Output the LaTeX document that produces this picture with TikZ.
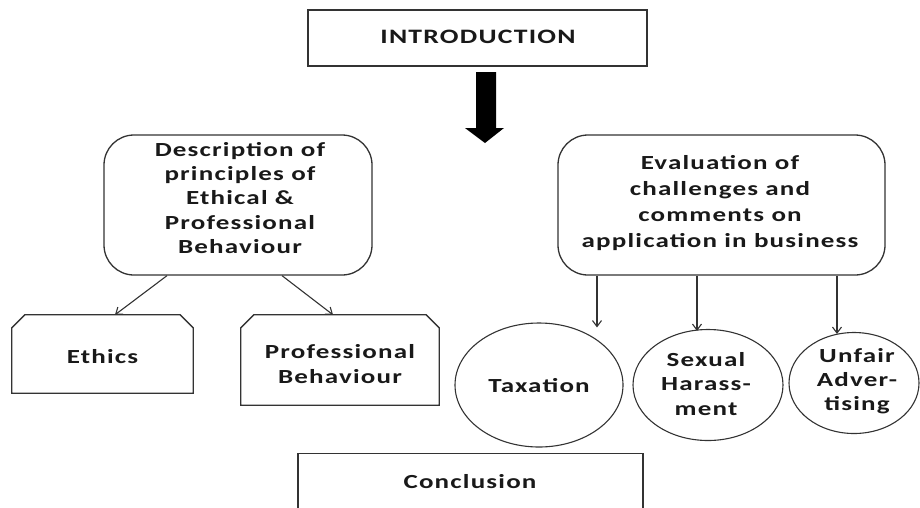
\documentclass[tikz,border=0pt]{standalone}
\usepackage{fontspec}
\setmainfont{Carlito}[FakeStretch=1.35,LetterSpace=6]
\usetikzlibrary{shapes.geometric,arrows.meta,calc}
\begin{document}
\begin{tikzpicture}[x=1pt,y=-1pt,
  txt/.style={font=\bfseries\fontsize{20}{24.3}\selectfont,text=black!90,align=center,inner sep=0pt},
  plainbox/.style={draw=black!80,line width=1.3pt,inner sep=0pt},
  roundbox/.style={plainbox,rounded corners=30pt},
  oval/.style={draw=black!80,line width=1.1pt,ellipse,inner sep=0pt},
  arr/.style={draw=black!80,line width=1.1pt,-{Straight Barb[length=6pt,width=9pt]}}]
\useasboundingbox (0,0) rectangle (920,507);
% introduction
\node[plainbox,minimum width=339pt,minimum height=56pt] (intro) at (477.5,38) {};
\node[txt,font=\bfseries\fontsize{20.5}{25}\selectfont] (introt) at (478,37) {INTRODUCTION};
% big arrow
\coordinate (bigtop) at (486,72);
\fill[black] ($(bigtop)+(-10,0)$) -- ($(bigtop)+(10,0)$) -- ($(bigtop)+(10,56)$) -- ($(bigtop)+(18,56)$)
  -- ($(bigtop)+(-1,71)$) -- ($(bigtop)+(-21,56)$) -- ($(bigtop)+(-10,56)$) -- cycle;
% left rounded box
\node[roundbox,minimum width=268pt,minimum height=140pt] (desc) at (238,205) {};
\node[txt] (desct) at (240,198) {Description of\\principles of\\Ethical \&\\Professional\\Behaviour};
% right rounded box
\node[roundbox,minimum width=327pt,minimum height=140pt] (eval) at (721.5,205) {};
\node[txt,font=\bfseries\fontsize{20}{26}\selectfont] (evalt) at (720,203) {Evaluation of\\challenges and\\comments on\\application in business};
% chamfered boxes
\node[minimum width=181pt,minimum height=78pt,inner sep=0pt] (eth) at (102.5,354) {};
\draw[draw=black!80,line width=1.3pt] ([yshift=-13pt]eth.north west) -- ([xshift=13pt]eth.north west)
  -- ([xshift=-13pt]eth.north east) -- ([yshift=-13pt]eth.north east) -- (eth.south east) -- (eth.south west) -- cycle;
\node[txt] (etht) at (102.5,357) {Ethics};
\node[minimum width=198pt,minimum height=90pt,inner sep=0pt] (prof) at (340,360) {};
\draw[draw=black!80,line width=1.3pt] ([yshift=-13pt]prof.north west) -- ([xshift=13pt]prof.north west)
  -- ([xshift=-13pt]prof.north east) -- ([yshift=-13pt]prof.north east) -- (prof.south east) -- (prof.south west) -- cycle;
\node[txt] (proft) at (340,364) {Professional\\Behaviour};
% arrows from left box
\draw[arr] ([xshift=-71pt]desc.south) -- ([xshift=12.5pt]eth.north);
\draw[arr] ([xshift=44pt]desc.south) -- ([xshift=-7pt]prof.north);
% ellipses
\node[oval,minimum width=168pt,minimum height=124pt] (tax) at (539,385) {};
\node[txt] (taxt) at (539,386) {Taxation};
\node[oval,minimum width=150pt,minimum height=111pt] (sex) at (708,385) {};
\node[txt] (sext) at (706,384) {Sexual\\Harass-\\ment};
\node[oval,minimum width=130pt,minimum height=101pt] (unf) at (854,383) {};
\node[txt] (unft) at (857,381) {Unfair\\Adver-\\tising};
% arrows from right box
\draw[arr] ([xshift=-124.5pt]eval.south) -- ([xshift=58pt,yshift=-5pt]tax.north);
\draw[arr] ([xshift=-24.5pt]eval.south) -- ([xshift=-11pt,yshift=-2pt]sex.north);
\draw[arr] ([xshift=115.5pt]eval.south) -- ([xshift=-17pt,yshift=-2pt]unf.north);
% conclusion
\node[plainbox,minimum width=345pt,minimum height=70pt,anchor=north] (concl) at (470.5,453) {};
\node[txt] (conclt) at (470,482) {Conclusion};
\end{tikzpicture}
\end{document}
